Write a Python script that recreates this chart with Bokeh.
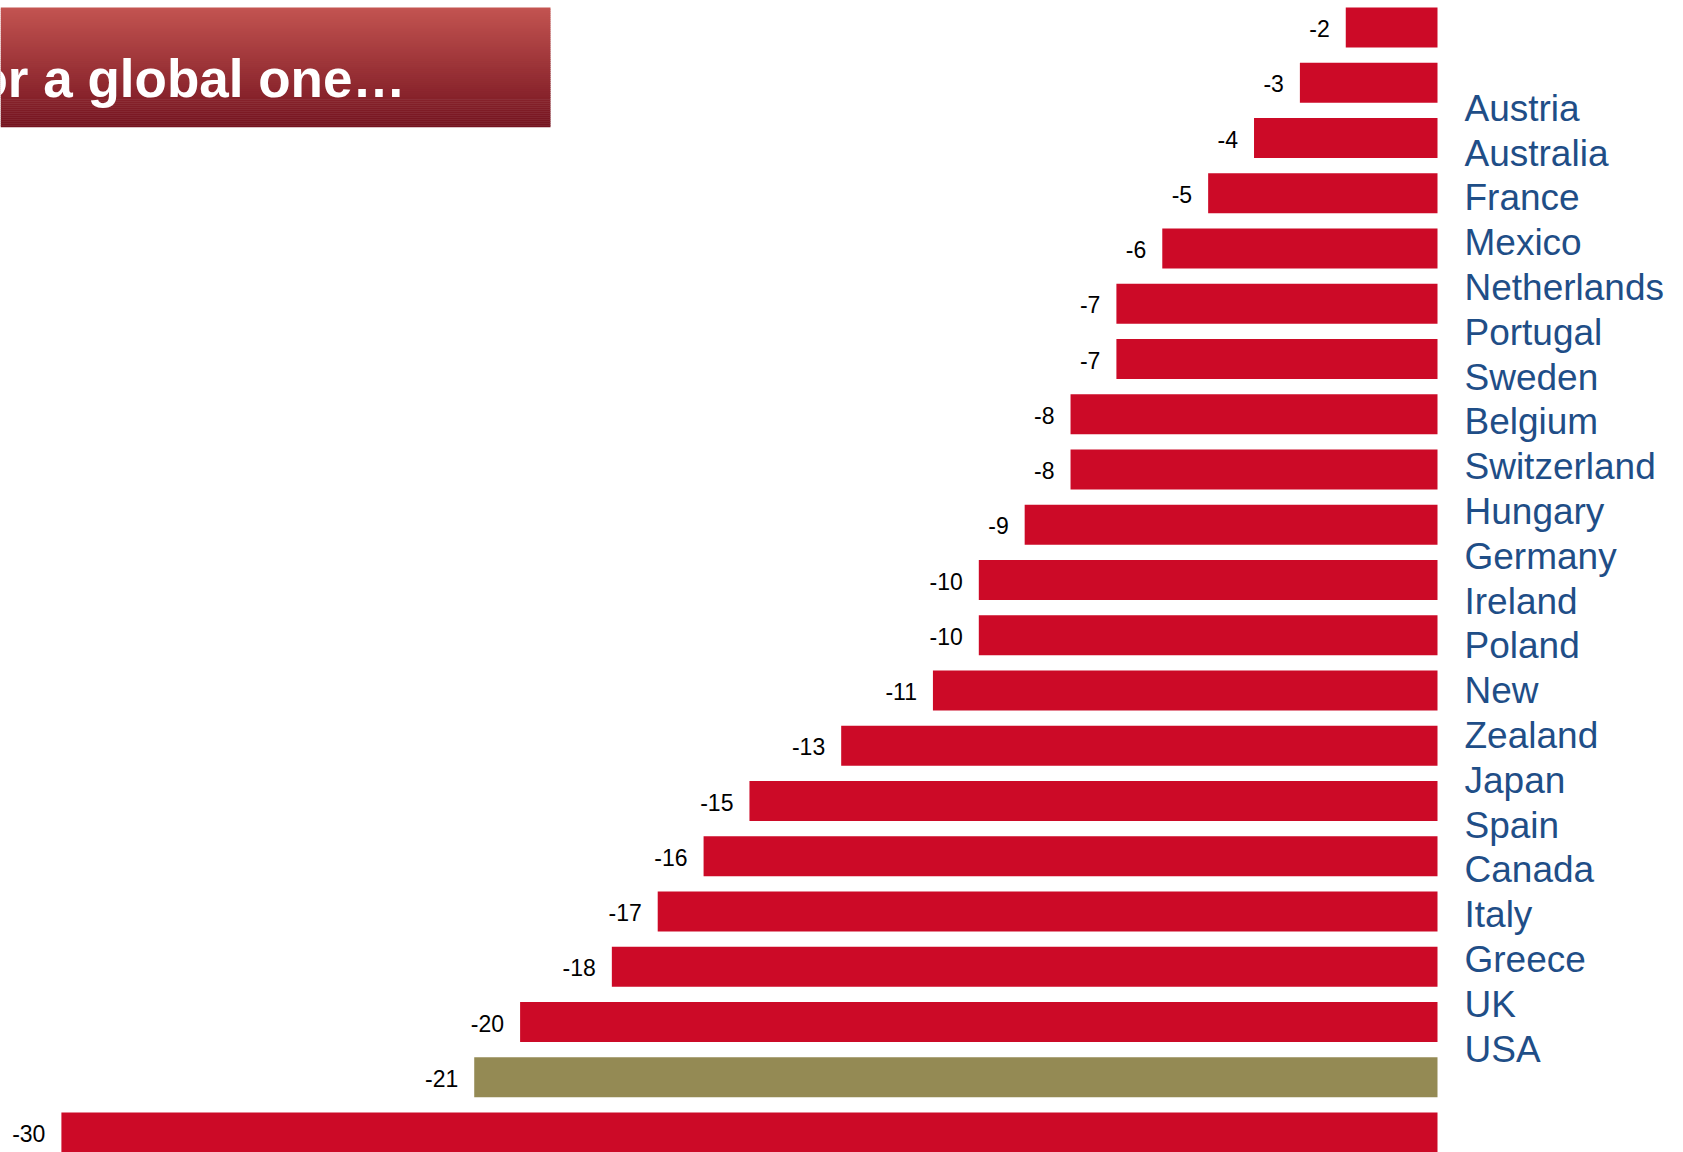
from bokeh.plotting import figure
from bokeh.models import Range1d, ColumnDataSource
from bokeh.embed import file_html
from bokeh.resources import INLINE
from bokeh.core.properties import value

# ---- data ----
values = [-2, -3, -4, -5, -6, -7, -7, -8, -8, -9, -10, -10, -11, -13, -15, -16, -17, -18, -20, -21, -30]
highlight_value = -21
countries = ["Austria", "Australia", "France", "Mexico", "Netherlands", "Portugal", "Sweden",
             "Belgium", "Switzerland", "Hungary", "Germany", "Ireland", "Poland", "New Zealand",
             "Japan", "Spain", "Canada", "Italy", "Greece", "UK", "USA"]
title_text = "or a global one\u2026"

# ---- style ----
RED = "#CC0A27"
OLIVE = "#948A54"
BLUE = "#1F4E87"
FONT = "Liberation Sans"

W, H = 1683, 1152
PX_PER_UNIT = 45.87
ZERO_PX = 1437
ROW_PX = 55.25
ROW0_PX = 27

x_start = -ZERO_PX / PX_PER_UNIT
x_end = (W - ZERO_PX) / PX_PER_UNIT
y_top = -ROW0_PX / ROW_PX
y_bot = (H - ROW0_PX) / ROW_PX

p = figure(width=W, height=H, x_range=Range1d(x_start, x_end), y_range=Range1d(y_bot, y_top),
           output_backend="svg", toolbar_location=None, x_axis_type=None, y_axis_type=None,
           min_border=0, min_border_left=0, min_border_right=0, min_border_top=0, min_border_bottom=0,
           outline_line_color=None, background_fill_color="white", border_fill_color="white")
p.grid.visible = False
p.extra_x_ranges = {"px": Range1d(0, W)}
p.extra_y_ranges = {"px": Range1d(H, 0)}

# bars
idx = list(range(len(values)))
colors = [OLIVE if v == highlight_value else RED for v in values]
src = ColumnDataSource(dict(y=idx, v=values, c=colors, lab=[str(v) for v in values]))
p.hbar(y="y", left="v", right=0, height=40 / ROW_PX, fill_color="c", line_color=None, source=src)
p.text(x="v", y="y", text="lab", source=src, x_offset=-16, y_offset=1, text_align="right",
       text_baseline="middle", text_font=value(FONT), text_font_size="23px", text_color="#000000")

# country name block
lines = []
for c in countries:
    lines.extend(c.split(" "))
line_y = [107.7 + 44.8 * k for k in range(len(lines))]
p.text(x=[1464] * len(lines), y=line_y, text=lines, x_range_name="px", y_range_name="px",
       text_align="left", text_baseline="alphabetic", text_font=value(FONT),
       text_font_size="37px", text_color=BLUE)

# title box with vertical gradient
top_c = (195, 84, 81)
bot_c = (116, 19, 31)
box_top, box_bot = 7.0, 126.7
n = 60
hs = (box_bot - box_top) / n
qt, qb, qc = [], [], []
for k in range(n):
    t = k / (n - 1)
    r = int(top_c[0] + (bot_c[0] - top_c[0]) * t)
    g = int(top_c[1] + (bot_c[1] - top_c[1]) * t)
    b = int(top_c[2] + (bot_c[2] - top_c[2]) * t)
    qt.append(box_top + k * hs)
    qb.append(min(box_top + (k + 1) * hs + 0.6, box_bot))
    qc.append("#%02x%02x%02x" % (r, g, b))
p.quad(left=0, right=550, top=qt, bottom=qb, fill_color=qc, line_color=None,
       x_range_name="px", y_range_name="px")
p.text(x=[-25], y=[77.5], text=[title_text], x_range_name="px", y_range_name="px",
       text_align="left", text_baseline="alphabetic", text_font=value(FONT),
       text_font_style="bold", text_font_size="53px", text_color="white")

open("out.html", "w").write(file_html(p, INLINE))
